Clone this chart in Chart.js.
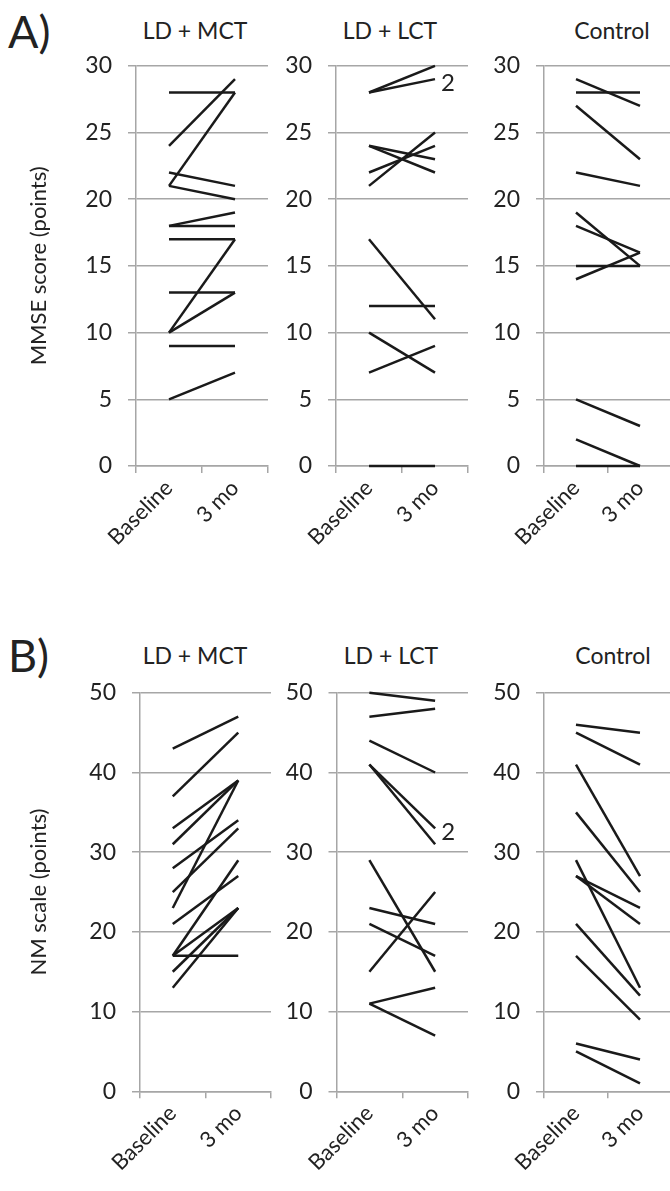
<!DOCTYPE html>
<html>
<head>
<meta charset="utf-8">
<script src="https://cdn.jsdelivr.net/npm/chart.js@4.4.1/dist/chart.umd.min.js"></script>
<style>
  body { margin: 0; width: 670px; height: 1191px; overflow: hidden; background: #fff; position: relative; font-family: Lato, sans-serif; color: #222; }
  canvas { position: absolute; }
  .title { position: absolute; font-size: 23px; transform: translateX(-50%); white-space: nowrap; }
  .panel { position: absolute; font-size: 45px; line-height: 1; }
</style>
</head>
<body>
<div class="panel" style="left:8px; top:9px">A)</div>
<div class="title" style="left:195px; top:16px">LD + MCT</div>
<div class="title" style="left:390px; top:16px">LD + LCT</div>
<div class="title" style="left:612px; top:16px">Control</div>
<div class="panel" style="left:8px; top:633px">B)</div>
<div class="title" style="left:195px; top:641px">LD + MCT</div>
<div class="title" style="left:391px; top:641px">LD + LCT</div>
<div class="title" style="left:613px; top:641px">Control</div>

<canvas id="a1" width="256" height="530" style="left:22px; top:36px"></canvas>
<canvas id="a2" width="203" height="530" style="left:275px; top:36px"></canvas>
<canvas id="a3" width="184" height="530" style="left:488px; top:36px"></canvas>
<canvas id="b1" width="259" height="526" style="left:22px; top:663px"></canvas>
<canvas id="b2" width="203" height="526" style="left:275px; top:663px"></canvas>
<canvas id="b3" width="184" height="526" style="left:488px; top:663px"></canvas>

<script>
// time points
const timeLabels = ['Baseline', '3 mo'];

// MMSE score (points), one entry per subject
const mmseMctBase = [28, 24, 22, 21, 21, 18, 18, 17, 10, 13, 10, 9, 5];
const mmseMct3mo  = [28, 29, 21, 28, 20, 19, 18, 17, 17, 13, 13, 9, 7];
const mmseLctBase = [28, 28, 24, 24, 22, 21, 17, 12, 10, 7, 0];
const mmseLct3mo  = [30, 29, 23, 22, 24, 25, 11, 12, 7, 9, 0];
const mmseCtlBase = [29, 28, 27, 22, 19, 18, 15, 14, 5, 2, 0];
const mmseCtl3mo  = [27, 28, 23, 21, 15, 16, 15, 16, 3, 0, 0];

// NM scale (points)
const nmMctBase = [43, 37, 33, 31, 28, 25, 23, 21, 17, 17, 17, 15, 13];
const nmMct3mo  = [47, 45, 39, 39, 34, 33, 39, 27, 29, 23, 17, 23, 23];
const nmLctBase = [50, 47, 44, 41, 41, 29, 23, 21, 15, 11, 11];
const nmLct3mo  = [49, 48, 40, 33, 31, 15, 21, 17, 25, 13, 7];
const nmCtlBase = [46, 45, 41, 35, 29, 27, 27, 21, 17, 6, 5];
const nmCtl3mo  = [45, 41, 27, 25, 13, 23, 21, 12, 9, 4, 1];

// "2" marks where two subjects share the same line (value at 3 mo)
const mmseLctDouble = 29;
const nmLctDouble = 33;

const gridGray = '#a6a6a6';
const lineBlack = '#1a1a1a';
const textColor = '#222';

// draws the "2" next to the end of a shared line
const doubleNote = {
  id: 'doubleNote',
  afterDatasetsDraw(chart, args, opts) {
    if (opts.value == null) return;
    const ctx = chart.ctx;
    const x = chart.scales.x.getPixelForValue(1) + 6;
    const y = chart.scales.y.getPixelForValue(opts.value) + 4;
    ctx.save();
    ctx.font = '24px Lato';
    ctx.fillStyle = textColor;
    ctx.textBaseline = 'middle';
    ctx.fillText('2', x, y);
    ctx.restore();
  }
};

function makePanel(id, base, after, yMax, yStep, axisW, xH, yTitle, note) {
  const datasets = base.map((b, i) => ({
    data: [b, after[i]],
    borderColor: lineBlack,
    borderWidth: 2.5,
    pointRadius: 0,
    fill: false,
    clip: false
  }));
  new Chart(document.getElementById(id), {
    type: 'line',
    data: { labels: timeLabels, datasets: datasets },
    plugins: [doubleNote],
    options: {
      responsive: false,
      devicePixelRatio: 1,
      animation: false,
      layout: { padding: { top: 21, right: id.endsWith('3') ? 0 : 10, left: 0, bottom: 0 } },
      plugins: {
        legend: { display: false },
        tooltip: { enabled: false },
        doubleNote: { value: note }
      },
      scales: {
        x: {
          type: 'category',
          offset: true,
          afterFit(scale) { scale.height = xH; },
          grid: { offset: true, drawOnChartArea: false, drawTicks: true, tickLength: 7, color: gridGray, lineWidth: 1.5 },
          border: { display: true, color: gridGray, width: 1.5 },
          ticks: { minRotation: 45, maxRotation: 45, padding: 2, color: textColor, font: { family: 'Lato', size: 22 } }
        },
        y: {
          min: 0,
          max: yMax,
          afterFit(scale) { scale.width = axisW; },
          grid: { color: gridGray, lineWidth: 1.5, tickLength: 8 },
          border: { display: true, color: gridGray, width: 1.5 },
          ticks: { stepSize: yStep, padding: 16, color: textColor, font: { family: 'Lato', size: 23 } },
          title: {
            display: !!yTitle,
            text: yTitle || '',
            color: textColor,
            padding: { top: 4, bottom: 0 },
            font: { family: 'Lato', size: 22 }
          }
        }
      }
    }
  });
}

makePanel('a1', mmseMctBase, mmseMct3mo, 30, 5, 114, 100, 'MMSE score (points)', null);
makePanel('a2', mmseLctBase, mmseLct3mo, 30, 5, 61, 100, null, mmseLctDouble);
makePanel('a3', mmseCtlBase, mmseCtl3mo, 30, 5, 56, 100, null, null);
makePanel('b1', nmMctBase, nmMct3mo, 50, 10, 118, 97.7, 'NM scale (points)', null);
makePanel('b2', nmLctBase, nmLct3mo, 50, 10, 61.5, 97.7, null, nmLctDouble);
makePanel('b3', nmCtlBase, nmCtl3mo, 50, 10, 56, 97.7, null, null);
</script>
</body>
</html>
